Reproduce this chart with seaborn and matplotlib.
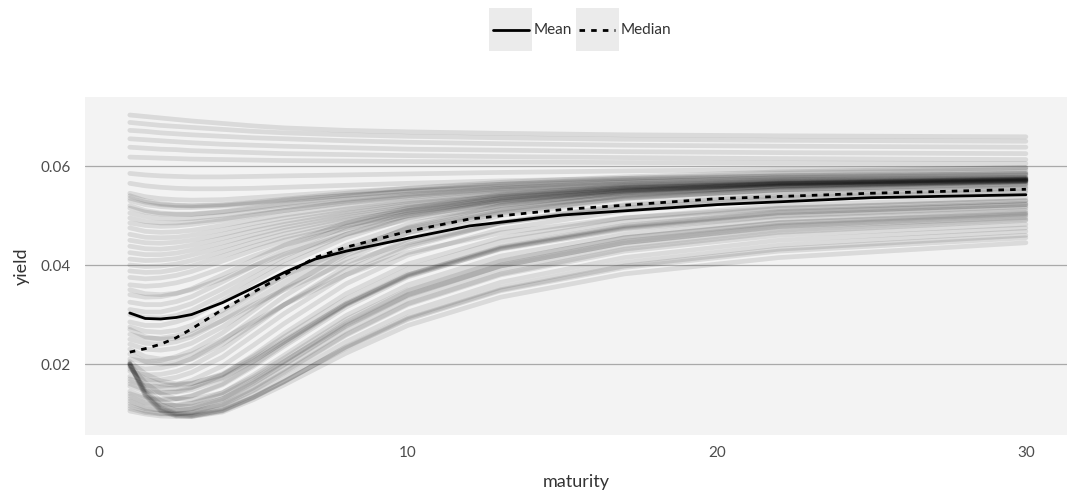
import matplotlib
matplotlib.use("Agg")
import matplotlib.pyplot as plt
from matplotlib.lines import Line2D
from matplotlib.patches import Rectangle
from matplotlib.legend_handler import HandlerLine2D
import numpy as np
import pandas as pd
import seaborn as sns

# Maturities (years) at which every simulated curve is sampled
maturity = [1, 1.5, 2, 2.5, 3, 4, 5, 6, 8, 10, 13, 17, 22, 30]

# Simulated yield curves, in percent, grouped by regime
high_flat = [
    [7.03, 7.00, 6.97, 6.94, 6.91, 6.86, 6.81, 6.77, 6.72, 6.69, 6.66, 6.63, 6.61, 6.59],
    [6.88, 6.85, 6.82, 6.80, 6.78, 6.74, 6.70, 6.67, 6.63, 6.60, 6.57, 6.54, 6.52, 6.50],
    [6.72, 6.70, 6.67, 6.65, 6.63, 6.60, 6.57, 6.55, 6.51, 6.48, 6.45, 6.42, 6.40, 6.38],
    [6.55, 6.53, 6.51, 6.49, 6.47, 6.44, 6.42, 6.40, 6.37, 6.34, 6.32, 6.29, 6.27, 6.25],
    [6.38, 6.36, 6.34, 6.33, 6.31, 6.29, 6.27, 6.25, 6.23, 6.21, 6.19, 6.17, 6.15, 6.13],
    [6.18, 6.17, 6.16, 6.15, 6.14, 6.13, 6.12, 6.11, 6.10, 6.09, 6.08, 6.07, 6.06, 6.05],
]
transition = [
    [5.85, 5.82, 5.80, 5.79, 5.78, 5.78, 5.79, 5.80, 5.82, 5.84, 5.87, 5.90, 5.93, 5.96],
    [5.65, 5.60, 5.57, 5.55, 5.54, 5.54, 5.55, 5.57, 5.61, 5.65, 5.70, 5.75, 5.80, 5.85],
]
upper = [
    [5.45, 5.38, 5.34, 5.32, 5.31, 5.32, 5.36, 5.40, 5.48, 5.55, 5.63, 5.72, 5.80, 5.88],
    [5.40, 5.30, 5.24, 5.21, 5.20, 5.22, 5.27, 5.33, 5.45, 5.55, 5.67, 5.78, 5.88, 5.97],
    [5.35, 5.27, 5.22, 5.20, 5.19, 5.21, 5.26, 5.31, 5.41, 5.50, 5.60, 5.70, 5.78, 5.85],
    [5.30, 5.22, 5.18, 5.16, 5.16, 5.19, 5.24, 5.30, 5.40, 5.48, 5.58, 5.68, 5.76, 5.82],
    [5.20, 5.10, 5.05, 5.03, 5.03, 5.08, 5.16, 5.24, 5.38, 5.50, 5.63, 5.75, 5.85, 5.93],
    [5.15, 5.07, 5.03, 5.02, 5.02, 5.07, 5.14, 5.21, 5.33, 5.43, 5.54, 5.64, 5.72, 5.78],
    [5.05, 4.98, 4.94, 4.93, 4.94, 5.00, 5.08, 5.16, 5.29, 5.40, 5.52, 5.63, 5.71, 5.77],
    [4.95, 4.88, 4.85, 4.85, 4.87, 4.93, 5.02, 5.10, 5.25, 5.37, 5.50, 5.61, 5.69, 5.75],
    [4.85, 4.80, 4.78, 4.79, 4.82, 4.90, 5.00, 5.10, 5.27, 5.40, 5.55, 5.67, 5.76, 5.83],
    [4.75, 4.68, 4.66, 4.67, 4.70, 4.80, 4.91, 5.01, 5.18, 5.31, 5.46, 5.58, 5.67, 5.73],
    [4.62, 4.56, 4.55, 4.56, 4.60, 4.71, 4.84, 4.95, 5.13, 5.28, 5.44, 5.57, 5.66, 5.73],
    [4.50, 4.45, 4.44, 4.46, 4.50, 4.62, 4.76, 4.88, 5.08, 5.24, 5.41, 5.55, 5.65, 5.72],
    [4.38, 4.33, 4.32, 4.35, 4.40, 4.54, 4.69, 4.82, 5.04, 5.21, 5.39, 5.54, 5.64, 5.72],
    [4.25, 4.21, 4.21, 4.24, 4.30, 4.45, 4.61, 4.76, 4.99, 5.17, 5.36, 5.52, 5.63, 5.71],
    [4.12, 4.09, 4.10, 4.13, 4.20, 4.36, 4.54, 4.70, 4.95, 5.14, 5.34, 5.51, 5.62, 5.71],
    [4.00, 3.97, 3.98, 4.02, 4.09, 4.27, 4.46, 4.63, 4.90, 5.10, 5.31, 5.49, 5.61, 5.70],
    [3.88, 3.85, 3.86, 3.91, 3.98, 4.18, 4.38, 4.56, 4.85, 5.07, 5.29, 5.48, 5.60, 5.70],
    [3.75, 3.72, 3.74, 3.79, 3.87, 4.08, 4.30, 4.50, 4.80, 5.03, 5.27, 5.46, 5.59, 5.69],
    [3.60, 3.57, 3.59, 3.64, 3.72, 3.94, 4.18, 4.40, 4.74, 4.99, 5.24, 5.44, 5.58, 5.68],
]
middle = [
    [2.20, 2.05, 2.00, 2.02, 2.10, 2.40, 2.80, 3.20, 3.90, 4.40, 4.85, 5.20, 5.40, 5.55],
    [2.30, 2.15, 2.10, 2.12, 2.20, 2.50, 2.85, 3.20, 3.80, 4.25, 4.65, 4.95, 5.15, 5.30],
    [2.40, 2.30, 2.28, 2.32, 2.42, 2.75, 3.15, 3.55, 4.20, 4.65, 5.05, 5.35, 5.52, 5.65],
    [2.50, 2.42, 2.40, 2.45, 2.55, 2.88, 3.28, 3.66, 4.30, 4.74, 5.12, 5.40, 5.56, 5.68],
    [2.60, 2.52, 2.52, 2.57, 2.68, 3.00, 3.40, 3.78, 4.40, 4.82, 5.20, 5.45, 5.60, 5.70],
    [2.70, 2.55, 2.50, 2.52, 2.60, 2.88, 3.20, 3.50, 4.05, 4.45, 4.85, 5.15, 5.35, 5.50],
    [2.75, 2.66, 2.64, 2.68, 2.78, 3.08, 3.44, 3.78, 4.32, 4.72, 5.08, 5.35, 5.52, 5.64],
    [2.85, 2.78, 2.78, 2.85, 2.95, 3.28, 3.65, 4.00, 4.55, 4.95, 5.28, 5.50, 5.63, 5.72],
    [3.00, 2.94, 2.93, 2.98, 3.08, 3.40, 3.75, 4.09, 4.62, 5.00, 5.31, 5.52, 5.64, 5.73],
    [3.10, 3.05, 3.05, 3.12, 3.22, 3.52, 3.85, 4.18, 4.70, 5.05, 5.35, 5.55, 5.66, 5.74],
    [3.25, 3.20, 3.20, 3.26, 3.36, 3.66, 3.98, 4.29, 4.78, 5.10, 5.38, 5.57, 5.68, 5.75],
    [3.40, 3.35, 3.36, 3.42, 3.52, 3.80, 4.10, 4.40, 4.85, 5.15, 5.42, 5.60, 5.70, 5.76],
    [3.50, 3.42, 3.40, 3.43, 3.50, 3.72, 3.98, 4.22, 4.62, 4.92, 5.18, 5.38, 5.50, 5.60],
]
low_humped = [
    [2.00, 1.38, 1.07, 0.96, 0.94, 1.03, 1.28, 1.58, 2.22, 2.78, 3.35, 3.82, 4.15, 4.45],
    [2.01, 1.40, 1.09, 0.98, 0.96, 1.06, 1.33, 1.65, 2.34, 2.92, 3.50, 3.98, 4.32, 4.60],
    [1.99, 1.36, 1.05, 0.95, 0.94, 1.05, 1.32, 1.64, 2.35, 2.95, 3.55, 4.05, 4.40, 4.68],
    [2.02, 1.42, 1.12, 1.00, 0.98, 1.10, 1.38, 1.72, 2.45, 3.05, 3.65, 4.15, 4.50, 4.75],
    [1.98, 1.45, 1.18, 1.06, 1.04, 1.18, 1.48, 1.84, 2.60, 3.22, 3.82, 4.32, 4.66, 4.90],
    [1.95, 1.50, 1.26, 1.15, 1.14, 1.30, 1.62, 2.00, 2.78, 3.40, 4.00, 4.48, 4.80, 5.02],
    [1.05, 0.99, 0.95, 0.94, 0.95, 1.07, 1.33, 1.65, 2.32, 2.90, 3.48, 3.95, 4.28, 4.55],
    [1.15, 1.05, 1.00, 0.99, 1.01, 1.16, 1.46, 1.82, 2.58, 3.20, 3.80, 4.28, 4.60, 4.82],
    [1.25, 1.12, 1.07, 1.06, 1.09, 1.27, 1.60, 1.98, 2.76, 3.38, 3.98, 4.45, 4.76, 4.96],
    [1.35, 1.22, 1.17, 1.17, 1.21, 1.42, 1.78, 2.18, 2.98, 3.60, 4.18, 4.62, 4.92, 5.10],
    [1.45, 1.33, 1.29, 1.30, 1.36, 1.60, 1.98, 2.40, 3.20, 3.80, 4.36, 4.78, 5.06, 5.22],
    [1.55, 1.45, 1.42, 1.44, 1.52, 1.78, 2.18, 2.62, 3.42, 4.02, 4.55, 4.95, 5.20, 5.36],
    [1.65, 1.56, 1.55, 1.58, 1.67, 1.96, 2.38, 2.82, 3.62, 4.20, 4.72, 5.10, 5.33, 5.47],
    [1.75, 1.68, 1.68, 1.73, 1.83, 2.14, 2.58, 3.02, 3.80, 4.36, 4.86, 5.22, 5.43, 5.56],
    [1.85, 1.78, 1.79, 1.85, 1.96, 2.30, 2.75, 3.20, 3.97, 4.52, 5.00, 5.33, 5.52, 5.63],
    [1.95, 1.90, 1.92, 1.99, 2.11, 2.47, 2.92, 3.37, 4.12, 4.65, 5.10, 5.42, 5.59, 5.69],
    [2.10, 2.05, 2.07, 2.15, 2.27, 2.63, 3.08, 3.52, 4.25, 4.76, 5.20, 5.49, 5.65, 5.74],
    [1.30, 1.20, 1.16, 1.16, 1.20, 1.38, 1.70, 2.06, 2.80, 3.40, 3.98, 4.45, 4.78, 5.00],
    [1.60, 1.48, 1.43, 1.43, 1.48, 1.70, 2.05, 2.45, 3.22, 3.82, 4.38, 4.80, 5.08, 5.25],
    [1.90, 1.70, 1.60, 1.57, 1.60, 1.80, 2.15, 2.55, 3.32, 3.92, 4.48, 4.88, 5.14, 5.30],
    [1.10, 1.02, 0.99, 0.99, 1.02, 1.20, 1.52, 1.90, 2.68, 3.30, 3.90, 4.38, 4.70, 4.92],
    [2.05, 1.80, 1.66, 1.60, 1.61, 1.78, 2.10, 2.48, 3.22, 3.80, 4.34, 4.74, 5.00, 5.18],
    [1.40, 1.30, 1.27, 1.29, 1.35, 1.58, 1.95, 2.36, 3.15, 3.76, 4.33, 4.76, 5.05, 5.22],
    [1.70, 1.58, 1.52, 1.50, 1.53, 1.72, 2.06, 2.45, 3.20, 3.78, 4.32, 4.72, 4.98, 5.15],
    [2.00, 1.62, 1.40, 1.30, 1.28, 1.42, 1.74, 2.12, 2.90, 3.50, 4.08, 4.55, 4.86, 5.06],
    [1.20, 1.10, 1.06, 1.06, 1.10, 1.30, 1.65, 2.05, 2.85, 3.48, 4.08, 4.55, 4.85, 5.04],
]

# Cross-sectional summary curves (percent)
stat_maturity = [1, 1.5, 2, 2.5, 3, 4, 5, 6, 7, 8, 10, 12, 15, 20, 25, 30]
mean_yield = [3.03, 2.92, 2.91, 2.94, 3.00, 3.24, 3.54, 3.85, 4.12, 4.28, 4.54, 4.79, 5.01, 5.22, 5.36, 5.42]
median_yield = [2.24, 2.31, 2.40, 2.53, 2.71, 3.10, 3.45, 3.80, 4.15, 4.36, 4.68, 4.93, 5.12, 5.34, 5.45, 5.53]

x_ticks = [0, 10, 20, 30]
y_ticks = [0.02, 0.04, 0.06]

# Long-form table of all paths
rows = []
pid = 0
for group in (high_flat, transition, upper, middle, low_humped):
    for curve in group:
        for m, y in zip(maturity, curve):
            rows.append({"path": pid, "maturity": m, "yield": y / 100})
        pid += 1
paths = pd.DataFrame(rows)

stats = pd.DataFrame({
    "maturity": stat_maturity,
    "mean": np.array(mean_yield) / 100,
    "median": np.array(median_yield) / 100,
})

sns.set_theme(style="white")
plt.rcParams["font.family"] = ["Lato", "DejaVu Sans"]

W, H = 1067, 495
fig = plt.figure(figsize=(W / 100, H / 100), dpi=100)
ax = fig.add_axes([85 / W, (H - 435) / H, (W - 85) / W, 338 / H])
ax.set_facecolor("#f3f3f3")

sns.lineplot(data=paths, x="maturity", y="yield", units="path", estimator=None,
             color="black", alpha=0.1, lw=3.4, ax=ax, legend=False)

lw_stat = 2.0
median_ls = (0, (2.0, 2.2))
sns.lineplot(data=stats, x="maturity", y="mean", color="black", lw=lw_stat,
             ax=ax, label="Mean")
sns.lineplot(data=stats, x="maturity", y="median", color="black", lw=lw_stat,
             linestyle=median_ls, ax=ax, label="Median")

ax.set_xlim(-0.45, 31.33)
ax.set_ylim(0.00566, 0.07394)
ax.set_xticks(x_ticks)
ax.set_yticks(y_ticks)
ax.set_yticklabels([f"{v:.2f}" for v in y_ticks])
ax.set_axisbelow(True)
ax.yaxis.grid(True, color="#a9a9a9", lw=0.9)
ax.xaxis.grid(False)
for s in ax.spines.values():
    s.set_visible(False)
ax.tick_params(axis="both", length=0, labelsize=11, labelcolor="#4d4d4d")
ax.tick_params(axis="y", pad=10)
ax.tick_params(axis="x", pad=8)
ax.set_xlabel("maturity", fontsize=13, color="#333333", labelpad=10)
ax.set_ylabel("yield", fontsize=13, color="#333333", labelpad=8)


class KeyHandler(HandlerLine2D):
    """Legend key drawn on a grey tile."""

    def __init__(self, linestyle, **kw):
        super().__init__(**kw)
        self.key_ls = linestyle

    def create_artists(self, legend, orig_handle, xdescent, ydescent,
                       width, height, fontsize, trans):
        tile = Rectangle((-xdescent, -ydescent), width, height,
                         facecolor="#ebebeb", edgecolor="none", transform=trans)
        yc = -ydescent + height / 2
        line = Line2D([-xdescent + 0.08 * width, -xdescent + 0.92 * width], [yc, yc],
                      color=orig_handle.get_color(), lw=orig_handle.get_linewidth(),
                      linestyle=self.key_ls, transform=trans)
        return [tile, line]


handles, labels = ax.get_legend_handles_labels()
ax.legend_.remove()
styles = {"Mean": "-", "Median": median_ls}
fs = 11
fs_px = fs * 100 / 72
key_px = 43
key_len = key_px / fs_px
# legend box height = fontsize * (0.65 * handleheight + 0.245)
key_height = (key_px / fs_px - 0.245) / 0.65
leg = fig.legend(handles, labels, loc="upper center", bbox_to_anchor=(580 / W, 1 - 8 / H),
                 ncol=2, frameon=False, fontsize=fs, handlelength=key_len,
                 handleheight=key_height, handletextpad=0.1, columnspacing=0.25,
                 borderpad=0, borderaxespad=0,
                 handler_map={h: KeyHandler(styles[l]) for h, l in zip(handles, labels)})
for t in leg.get_texts():
    t.set_color("#333333")

fig.savefig("out.png", dpi=100, facecolor="white")
